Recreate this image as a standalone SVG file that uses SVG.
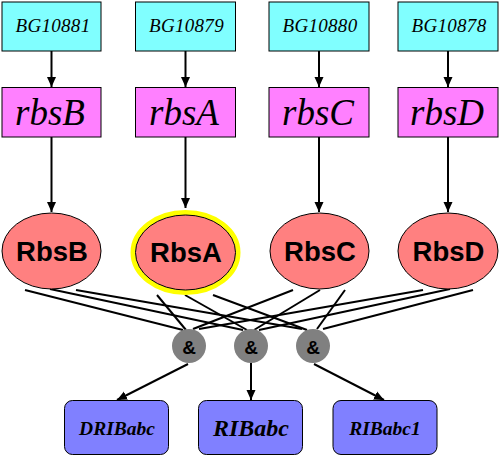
<svg xmlns="http://www.w3.org/2000/svg" width="500" height="457" viewBox="0 0 500 457">
<defs>
<marker id="arr" viewBox="0 0 10 10" refX="10" refY="5" markerWidth="10" markerHeight="10" markerUnits="userSpaceOnUse" orient="auto">
<path d="M0,0.5 L10,5 L0,9.5 z" fill="#000"/>
</marker>
<style>
.gene{fill:#80FFFF;stroke:#000;stroke-width:1}
.tu{fill:#FF80FF;stroke:#000;stroke-width:1}
.prot{fill:#FF8080;stroke:#000;stroke-width:1}
.gate{fill:#808080;stroke:none}
.cplx{fill:#8080FF;stroke:#000;stroke-width:1}
.t1{font-family:"Liberation Serif",serif;font-style:italic;font-size:19px;letter-spacing:0.3px;text-anchor:middle;fill:#000}
.t2{font-family:"Liberation Serif",serif;font-style:italic;font-size:37px;text-anchor:middle;fill:#000}
.t3{font-family:"Liberation Sans",Arial,sans-serif;font-weight:bold;font-size:27.5px;text-anchor:middle;fill:#000}
.t4{font-family:"Liberation Sans",Arial,sans-serif;font-weight:bold;font-size:19px;text-anchor:middle;fill:#000}
.t5{font-family:"Liberation Serif",serif;font-style:italic;font-weight:bold;font-size:19.5px;text-anchor:middle;fill:#000}
.e{stroke:#000;stroke-width:2;fill:none}
.a{stroke:#000;stroke-width:2;fill:none;marker-end:url(#arr)}
</style>
</defs>
<rect width="500" height="457" fill="#fff"/>
<g id="connectors">
<line class="a" x1="51.5" y1="51" x2="51.5" y2="87"/>
<line class="a" x1="185.5" y1="51" x2="185.5" y2="87"/>
<line class="a" x1="319" y1="51" x2="319" y2="87"/>
<line class="a" x1="448" y1="51" x2="448" y2="87"/>
<line class="a" x1="51.5" y1="137" x2="51.5" y2="212"/>
<line class="a" x1="185.5" y1="137" x2="185.5" y2="208"/>
<line class="a" x1="319" y1="137" x2="319" y2="212"/>
<line class="a" x1="448" y1="137" x2="448" y2="212"/>
<line class="e" x1="25" y1="290" x2="183" y2="330"/>
<line class="e" x1="50" y1="289" x2="243" y2="330"/>
<line class="e" x1="76" y1="290" x2="302" y2="329"/>
<line class="e" x1="157" y1="295" x2="186" y2="330"/>
<line class="e" x1="185" y1="295" x2="247" y2="330"/>
<line class="e" x1="213" y1="295" x2="307" y2="330"/>
<line class="e" x1="293" y1="290" x2="193" y2="329"/>
<line class="e" x1="320" y1="290" x2="254" y2="330"/>
<line class="e" x1="345" y1="290" x2="317" y2="329"/>
<line class="e" x1="423" y1="290" x2="199" y2="329"/>
<line class="e" x1="450" y1="289" x2="259" y2="330"/>
<line class="e" x1="473" y1="290" x2="323" y2="329"/>
<line class="a" x1="188" y1="364" x2="117" y2="400"/>
<line class="a" x1="251" y1="363" x2="251" y2="400"/>
<line class="a" x1="314" y1="364" x2="384" y2="400"/>
</g>
<g id="BG10881"><rect class="gene" x="2" y="2" width="99" height="49"/><text class="t1" x="53" y="32">BG10881</text></g>
<g id="BG10879"><rect class="gene" x="135.5" y="2" width="100" height="49"/><text class="t1" x="186.5" y="32">BG10879</text></g>
<g id="BG10880"><rect class="gene" x="269" y="2" width="100" height="49"/><text class="t1" x="320" y="32">BG10880</text></g>
<g id="BG10878"><rect class="gene" x="398" y="2" width="100" height="49"/><text class="t1" x="449" y="32">BG10878</text></g>
<g id="rbsB"><rect class="tu" x="2" y="87.5" width="99" height="49.5"/><text class="t2" x="50" y="125">rbsB</text></g>
<g id="rbsA"><rect class="tu" x="135.5" y="87.5" width="100" height="49.5"/><text class="t2" x="184" y="125">rbsA</text></g>
<g id="rbsC"><rect class="tu" x="269" y="87.5" width="100" height="49.5"/><text class="t2" x="318" y="125">rbsC</text></g>
<g id="rbsD"><rect class="tu" x="398" y="87.5" width="100" height="49.5"/><text class="t2" x="447" y="125">rbsD</text></g>
<g id="RbsB"><ellipse class="prot" cx="51.5" cy="251" rx="49.5" ry="38"/><text class="t3" x="52" y="261">RbsB</text></g>
<g id="RbsA"><ellipse cx="185.5" cy="252.5" rx="52.5" ry="40" fill="none" stroke="#FFFF00" stroke-width="5"/><ellipse class="prot" cx="185.5" cy="252.5" rx="50" ry="37.5"/><text class="t3" x="186" y="262">RbsA</text></g>
<g id="RbsC"><ellipse class="prot" cx="319.5" cy="251" rx="49.5" ry="38"/><text class="t3" x="320" y="261">RbsC</text></g>
<g id="RbsD"><ellipse class="prot" cx="448" cy="251" rx="50" ry="38"/><text class="t3" x="448.5" y="261">RbsD</text></g>
<g id="and1"><circle class="gate" cx="189" cy="346" r="17"/><text class="t4" x="189" y="354">&amp;</text></g>
<g id="and2"><circle class="gate" cx="251" cy="346" r="17"/><text class="t4" x="251" y="354">&amp;</text></g>
<g id="and3"><circle class="gate" cx="313" cy="346" r="17"/><text class="t4" x="313" y="354">&amp;</text></g>
<g id="DRIBabc"><rect class="cplx" x="64.5" y="400.5" width="104" height="54" rx="8"/><text class="t5" x="117" y="435">DRIBabc</text></g>
<g id="RIBabc"><rect class="cplx" x="198.5" y="400.5" width="104" height="54" rx="8"/><text class="t5" x="251" y="436" style="font-size:24px">RIBabc</text></g>
<g id="RIBabc1"><rect class="cplx" x="333" y="400.5" width="104" height="54" rx="8"/><text class="t5" x="385" y="435">RIBabc1</text></g>
</svg>
